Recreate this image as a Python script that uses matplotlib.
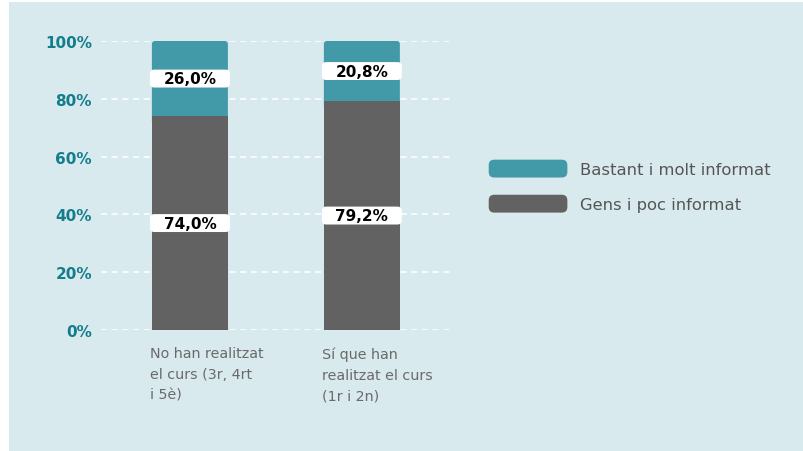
import matplotlib.pyplot as plt
import numpy as np
from matplotlib.patches import Patch, FancyBboxPatch
from matplotlib.legend_handler import HandlerPatch

# dades
categories = ['No han realitzat\nel curs (3r, 4rt\ni 5è)', 'Sí que han\nrealitzat el curs\n(1r i 2n)']
gens_poc = [74.0, 79.2]
bastant_molt = [26.0, 20.8]
series_names = ['Bastant i molt informat', 'Gens i poc informat']
yticks = [0, 20, 40, 60, 80, 100]

col_teal = '#4299a8'
col_gray = '#626263'
col_bg = '#d9eaef'
col_tick = '#137d8c'

fig = plt.figure(figsize=(8.04, 4.52), dpi=100)
fig.patch.set_facecolor('white')
# panell de fons
fig.patches.append(plt.Rectangle((9 / 804, 0), 794 / 804, 1 - 3 / 452, transform=fig.transFigure,
                                 facecolor=col_bg, edgecolor='none', zorder=-10))

ax = fig.add_axes([0.1256, 0.2677, 0.434, 0.6394])
ax.set_facecolor('none')

x = np.arange(len(categories))
width = 0.442
asp = 60  # relacio px entre unitats x i y (aprox)
b1 = ax.bar(x, gens_poc, width, color=col_gray, zorder=3)
b2 = ax.bar(x, bastant_molt, width, bottom=gens_poc, color=col_teal, zorder=2)

# cantonades superiors arrodonides per a la part blava
for r in b2:
    rx, ry, rw, rh = r.get_x(), r.get_y(), r.get_width(), r.get_height()
    fb = FancyBboxPatch((rx, ry - 3), rw, rh + 3, boxstyle='round,pad=0,rounding_size=0.018',
                        mutation_aspect=asp, facecolor=col_teal, edgecolor='none', zorder=2)
    ax.add_patch(fb)
    r.remove()

ax.set_xlim(-0.517, 1.512)
ax.set_ylim(0, 100)
ax.set_yticks(yticks)
ax.set_yticklabels([f'{v}%' for v in yticks], fontsize=11, fontweight='bold', color=col_tick)
ax.set_xticks([])
ax.tick_params(axis='y', length=0, pad=6.5)
for s in ax.spines.values():
    s.set_visible(False)
ax.grid(axis='y', color='white', linestyle=(0, (4, 3)), linewidth=1.1, zorder=1)

# etiquetes de categoria, alineades a l'esquerra de cada barra
for xi, lab in zip(x, categories):
    ax.text(xi - width / 2 - 0.01, -5.6, lab, ha='left', va='top', fontsize=10.3,
            color='#6a6a6a', linespacing=1.62)

# valors amb caixa blanca
bw, bh = 0.465, 6.2
def label(xc, yc, val):
    ax.add_patch(FancyBboxPatch((xc - bw / 2, yc - bh / 2), bw, bh,
                                boxstyle='round,pad=0,rounding_size=0.025', mutation_aspect=asp,
                                facecolor='white', edgecolor='none', zorder=4))
    ax.text(xc, yc, f'{val:.1f}%'.replace('.', ','), ha='center', va='center', fontsize=11,
            fontweight='bold', color='black', zorder=5)

for xi, g, b in zip(x, gens_poc, bastant_molt):
    label(xi, g / 2, g)
    label(xi, g + b / 2, b)


class RoundHandler(HandlerPatch):
    def create_artists(self, legend, orig_handle, xdescent, ydescent, width, height, fontsize, trans):
        p = FancyBboxPatch((-xdescent, -ydescent), width, height,
                           boxstyle='round,pad=0,rounding_size=4',
                           facecolor=orig_handle.get_facecolor(), edgecolor='none', transform=trans)
        return [p]


handles = [Patch(facecolor=col_teal, edgecolor='none'), Patch(facecolor=col_gray, edgecolor='none')]
fig.legend(handles, series_names, loc='center left', bbox_to_anchor=(0.5895, 0.586),
           frameon=False, fontsize=11.8, handlelength=4.8, handleheight=1.3,
           handletextpad=0.75, labelspacing=1.05, labelcolor='#555555',
           handler_map={Patch: RoundHandler()})

plt.savefig('out.png', dpi=100, facecolor=fig.get_facecolor())
